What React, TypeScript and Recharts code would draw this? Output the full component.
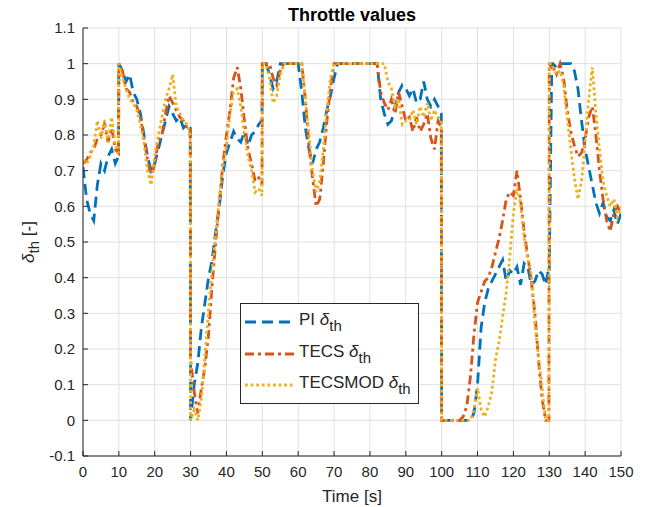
import { LineChart, Line, XAxis, YAxis, CartesianGrid } from "recharts";

// sample times [s]; the extra x.9 / 130.7 entries keep the step changes vertical
const time = [
  0, 1, 2, 3, 4, 5, 6, 7, 8, 9, 9.9,
  10, 11, 12, 13, 14, 15, 16, 17, 18, 19, 20, 21, 22, 23, 24, 25, 26, 27, 28, 29, 29.9,
  30, 31, 32, 33, 34, 35, 36, 37, 38, 39, 40, 41, 42, 43, 44, 45, 46, 47, 48, 49, 49.9,
  50, 51, 52, 53, 54, 55, 56, 57, 58, 59,
  60, 61, 62, 63, 64, 65, 66, 67, 68, 69,
  70, 71, 72, 73, 74, 75, 76, 77, 78, 79,
  80, 81, 82, 83, 84, 85, 86, 87, 88, 89,
  90, 91, 92, 93, 94, 95, 96, 97, 98, 99, 99.9,
  100, 101, 102, 103, 104, 105, 106, 107, 108, 109,
  110, 111, 112, 113, 114, 115, 116, 117, 118, 119,
  120, 121, 122, 123, 124, 125, 126, 127, 128, 129, 129.9,
  130, 130.7, 131, 132, 133, 134, 135, 136, 137, 138, 139, 140,
  141, 142, 143, 144, 145, 146, 147, 148, 149, 150,
];

const piThrottle = [
  0.71, 0.62, 0.58, 0.56, 0.66, 0.72, 0.7, 0.74, 0.76, 0.72, 0.74,
  1.0, 0.98, 0.95, 0.97, 0.92, 0.9, 0.86, 0.8, 0.74, 0.7, 0.72, 0.76, 0.8, 0.84, 0.88, 0.86, 0.84, 0.85, 0.82, 0.83, 0.82,
  0.0, 0.1, 0.16, 0.26, 0.33, 0.4, 0.45, 0.53, 0.6, 0.69, 0.75, 0.78, 0.81, 0.79, 0.78, 0.81, 0.77, 0.8, 0.81, 0.83, 0.84,
  1, 1, 0.97, 0.93, 0.95, 1, 1, 1, 1, 1,
  1, 0.92, 0.82, 0.76, 0.72, 0.76, 0.78, 0.82, 0.87, 0.91,
  0.96, 1, 1, 1, 1, 1, 1, 1, 1, 1,
  1, 1, 1, 0.9, 0.86, 0.83, 0.84, 0.88, 0.92, 0.94,
  0.93, 0.91, 0.93, 0.89, 0.9, 0.95, 0.9, 0.88, 0.9, 0.88, 0.86,
  0, 0, 0, 0, 0, 0, 0, 0, 0, 0.02,
  0.1, 0.26, 0.33, 0.37, 0.39, 0.41, 0.43, 0.45, 0.39, 0.42,
  0.41, 0.43, 0.38, 0.44, 0.43, 0.38, 0.39, 0.42, 0.41, 0.38, 0.43,
  0.42, 1.0, 1.0, 0.99, 1.0, 1.0, 1.0, 1.0, 0.98, 0.93, 0.84, 0.76,
  0.71, 0.66, 0.61, 0.58, 0.61, 0.57, 0.56, 0.59, 0.55, 0.58,
];

const tecsThrottle = [
  0.72, 0.73, 0.75, 0.76, 0.79, 0.8, 0.83, 0.78, 0.82, 0.76, 0.75,
  1.0, 0.98, 0.93, 0.92, 0.89, 0.88, 0.85, 0.79, 0.73, 0.68, 0.72, 0.78, 0.8, 0.86, 0.91, 0.89, 0.87, 0.85, 0.84, 0.82, 0.82,
  0.17, 0.08, 0.02, 0.09, 0.15, 0.24, 0.38, 0.5, 0.61, 0.72, 0.8, 0.87, 0.96, 0.99, 0.93, 0.84, 0.76, 0.72, 0.67, 0.68, 0.66,
  1, 1, 1, 0.96, 0.94, 0.98, 1, 1, 1, 1,
  1, 1, 0.9, 0.77, 0.68, 0.6, 0.62, 0.72, 0.84, 0.93,
  1, 1, 1, 1, 1, 1, 1, 1, 1, 1,
  1, 1, 1, 0.92, 0.89, 0.87, 0.9, 0.86, 0.92, 0.88,
  0.84, 0.85, 0.81, 0.85, 0.81, 0.83, 0.86, 0.79, 0.76, 0.84, 0.82,
  0, 0, 0, 0, 0, 0, 0.01, 0.04, 0.12, 0.24,
  0.33, 0.36, 0.39, 0.4, 0.43, 0.47, 0.51, 0.56, 0.62, 0.64,
  0.63, 0.7, 0.62, 0.53, 0.46, 0.39, 0.3, 0.17, 0.06, 0.0, 0.0,
  1.0, 0.99, 0.99, 0.97, 1.0, 0.96, 0.87, 0.81, 0.77, 0.74, 0.75, 0.79,
  0.85, 0.88, 0.8, 0.7, 0.62, 0.56, 0.53, 0.58, 0.6, 0.58,
];

const tecsmodThrottle = [
  0.73, 0.72, 0.74, 0.77, 0.84, 0.79, 0.84, 0.78, 0.85, 0.77, 0.75,
  1.0, 0.96, 0.93, 0.9, 0.89, 0.87, 0.83, 0.78, 0.7, 0.66, 0.74, 0.8, 0.85, 0.9, 0.93, 0.97, 0.88, 0.86, 0.84, 0.83, 0.8,
  0.0, 0.03, 0.0, 0.06, 0.18, 0.31, 0.42, 0.52, 0.62, 0.71, 0.77, 0.86, 0.92, 0.93, 0.88, 0.8, 0.74, 0.7, 0.64, 0.65, 0.63,
  1, 1, 0.96, 0.89, 0.91, 0.97, 1, 1, 1, 1,
  1, 1, 0.9, 0.8, 0.7, 0.64, 0.67, 0.76, 0.87, 0.96,
  1, 1, 1, 1, 1, 1, 1, 1, 1, 1,
  1, 1, 1, 1, 1, 0.95, 0.93, 0.88, 0.9, 0.83,
  0.84, 0.84, 0.87, 0.83, 0.88, 0.85, 0.89, 0.84, 0.87, 0.85, 0.84,
  0, 0, 0, 0, 0, 0, 0, 0, 0, 0.03,
  0.09, 0.03, 0.01, 0.04, 0.08, 0.17, 0.22, 0.29, 0.36, 0.46,
  0.58, 0.65, 0.61, 0.51, 0.45, 0.41, 0.27, 0.18, 0.09, 0.0, 0.0,
  1.0, 1.0, 0.99, 0.97, 0.98, 0.94, 0.85, 0.76, 0.68, 0.62, 0.67, 0.78,
  0.9, 0.99, 0.86, 0.76, 0.67, 0.63, 0.6, 0.62, 0.57, 0.6,
];

const xTicks = [0, 10, 20, 30, 40, 50, 60, 70, 80, 90, 100, 110, 120, 130, 140, 150];
const yTicks = [-0.1, 0, 0.1, 0.2, 0.3, 0.4, 0.5, 0.6, 0.7, 0.8, 0.9, 1, 1.1];

const rows = time.map((t, i) => ({
  t,
  pi: piThrottle[i],
  tecs: tecsThrottle[i],
  tecsmod: tecsmodThrottle[i],
}));

const FONT = '"Liberation Sans", Arial, Helvetica, sans-serif';
const AXIS = "#262626";
const GRID = "#e0e0e0";

const SERIES = [
  { key: "pi", name: "PI", color: "#0072BD", dash: "11 6" },
  { key: "tecs", name: "TECS", color: "#D95319", dash: "9 4 3 4" },
  { key: "tecsmod", name: "TECSMOD", color: "#EDB120", dash: "2.8 2.8" },
];

function YLabel(props: any) {
  const vb = props.viewBox || { x: 0, y: 28, width: 83, height: 428 };
  const x = vb.x + 34;
  const y = vb.y + vb.height / 2;
  return (
    <text
      x={x}
      y={y}
      transform={`rotate(-90, ${x}, ${y})`}
      textAnchor="middle"
      fontSize={17}
      fontFamily={FONT}
      fill={AXIS}
    >
      <tspan fontStyle="italic">δ</tspan>
      <tspan fontSize={15} dy={5}>th</tspan>
      <tspan dy={-5}> [-]</tspan>
    </text>
  );
}

function LegendBox() {
  return (
    <div
      style={{
        position: "absolute",
        left: 240,
        top: 303,
        width: 179,
        height: 101,
        boxSizing: "border-box",
        border: `1px solid ${AXIS}`,
        background: "#fff",
        fontFamily: FONT,
        color: AXIS,
      }}
    >
      {SERIES.map((s, i) => (
        <div
          key={s.key}
          style={{
            position: "absolute",
            left: 4,
            top: 6 + i * 31.5,
            height: 24,
            display: "flex",
            alignItems: "center",
            whiteSpace: "nowrap",
          }}
        >
          <svg width={50} height={6} style={{ display: "block" }}>
            <line x1={0} y1={3} x2={49} y2={3} stroke={s.color} strokeWidth={3} strokeDasharray={s.dash} />
          </svg>
          <span style={{ marginLeft: 4, fontSize: 17, position: "relative", top: -2 }}>
            {s.name} <i>δ</i>
            <span style={{ fontSize: 15, position: "relative", top: 6 }}>th</span>
          </span>
        </div>
      ))}
    </div>
  );
}

export default function App() {
  return (
    <div style={{ position: "absolute", left: 0, top: 0, width: 646, height: 507, background: "#fff" }}>
      <div
        style={{
          position: "absolute",
          left: 83,
          top: 6,
          width: 538,
          textAlign: "center",
          fontFamily: FONT,
          fontWeight: "bold",
          fontSize: 18,
          lineHeight: "18px",
          color: "#000",
        }}
      >
        Throttle values
      </div>
      <LineChart width={646} height={507} data={rows} margin={{ top: 28, right: 25, bottom: 0, left: 0 }}>
        <CartesianGrid stroke={GRID} strokeWidth={1} horizontalValues={yTicks} verticalValues={xTicks} />
        <XAxis
          dataKey="t"
          type="number"
          domain={[0, 150]}
          ticks={xTicks}
          interval={0}
          allowDataOverflow
          height={51}
          tickSize={-5}
          tickMargin={15}
          stroke={AXIS}
          tick={{ fill: AXIS, fontSize: 15, fontFamily: FONT }}
          label={{ value: "Time [s]", position: "insideBottom", offset: 5, fill: AXIS, fontSize: 17, fontFamily: FONT }}
        />
        <XAxis
          xAxisId="top"
          orientation="top"
          dataKey="t"
          type="number"
          domain={[0, 150]}
          ticks={xTicks}
          interval={0}
          allowDataOverflow
          height={0}
          tickSize={-5}
          stroke={AXIS}
          tickFormatter={() => ""}
        />
        <YAxis
          type="number"
          domain={[-0.1, 1.1]}
          ticks={yTicks}
          interval={0}
          allowDataOverflow
          width={83}
          tickSize={-5}
          tickMargin={13}
          stroke={AXIS}
          tick={{ fill: AXIS, fontSize: 15, fontFamily: FONT }}
          tickFormatter={(v: number) => String(Math.round(v * 10) / 10)}
          label={<YLabel />}
        />
        <YAxis
          yAxisId="right"
          orientation="right"
          type="number"
          domain={[-0.1, 1.1]}
          ticks={yTicks}
          interval={0}
          allowDataOverflow
          width={0}
          tickSize={-5}
          stroke={AXIS}
          tickFormatter={() => ""}
        />
        {SERIES.map((s) => (
          <Line
            key={s.key}
            dataKey={s.key}
            type="linear"
            stroke={s.color}
            strokeWidth={2.8}
            strokeDasharray={s.dash}
            dot={false}
            activeDot={false}
            isAnimationActive={false}
          />
        ))}
      </LineChart>
      <LegendBox />
    </div>
  );
}
